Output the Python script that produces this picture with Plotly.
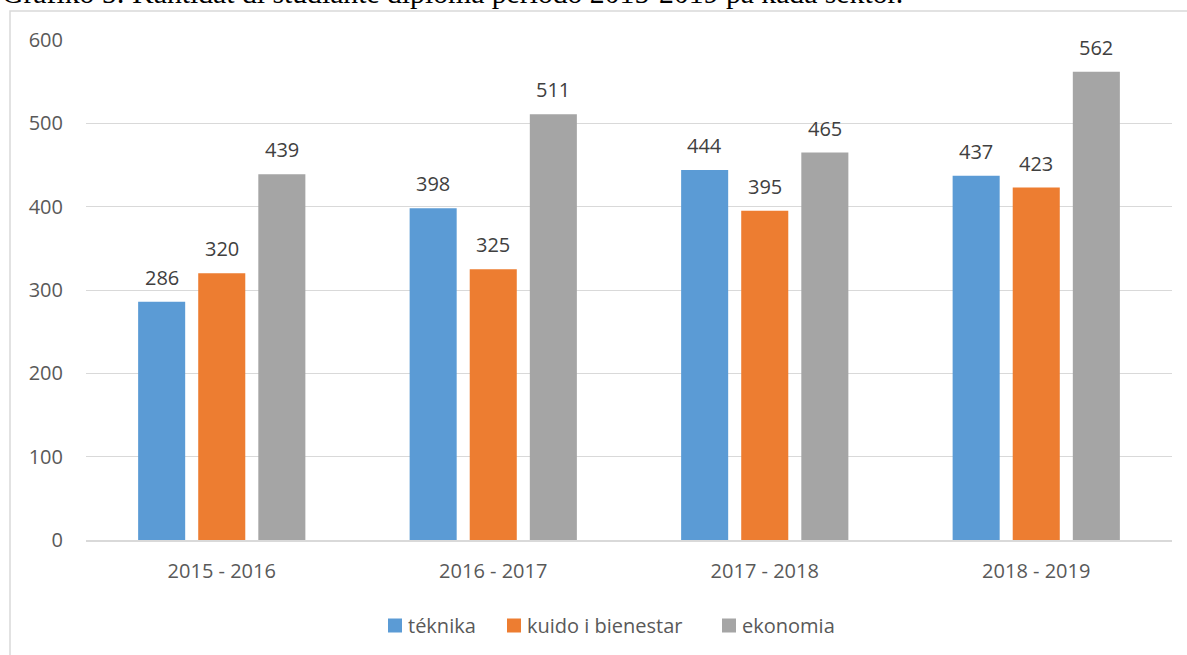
import plotly.graph_objects as go

W, H = 1187, 655

categories = ["2015 - 2016", "2016 - 2017", "2017 - 2018", "2018 - 2019"]
series_names = ["téknika", "kuido i bienestar", "ekonomia"]
teknika = [286, 398, 444, 437]
kuido = [320, 325, 395, 423]
ekonomia = [439, 511, 465, 562]
series_values = [teknika, kuido, ekonomia]
colors = ["#5B9BD5", "#ED7D31", "#A5A5A5"]
y_ticks = [0, 100, 200, 300, 400, 500, 600]
title_text = "Grafiko 5: Kantidat di studiante diploma periodo 2015-2019 pa kada sektor."

BARGAP = 0.336
BARGROUPGAP = 0.217


def px(x):
    return x / W


def py(y):
    return 1 - y / H


fig = go.Figure()
for name, vals, col in zip(series_names, series_values, colors):
    fig.add_trace(go.Bar(x=categories, y=vals, name=name, marker_color=col,
                         marker_line_width=0, showlegend=False))

# data labels
n = len(series_values)
slot = (1 - BARGAP) / n
annots = []
for i, vals in enumerate(series_values):
    for j, v in enumerate(vals):
        annots.append(dict(x=j + (i - (n - 1) / 2) * slot, y=v, xref="x", yref="y",
                           text=str(v), showarrow=False, yanchor="bottom", yshift=9,
                           font=dict(family="Open Sans", size=20, color="#404040")))

# title (partly cut at the top edge, as in the source)
annots.append(dict(x=px(0), y=py(10.9), xref="paper", yref="paper", xanchor="left",
                   yanchor="bottom", text=title_text, showarrow=False,
                   font=dict(family="Liberation Serif", size=29.7, color="#000000")))

shapes = [dict(type="rect", xref="paper", yref="paper", x0=px(10), x1=1.1,
               y0=-0.1, y1=py(11), line=dict(color="#D9D9D9", width=1.5),
               fillcolor="rgba(0,0,0,0)", layer="below")]

# legend (manual, Excel-like spacing)
legend_x = [388, 507, 722]
legend_y = 625.5
for name, col, lx in zip(series_names, colors, legend_x):
    shapes.append(dict(type="rect", xref="paper", yref="paper", x0=px(lx), x1=px(lx + 14),
                       y0=py(legend_y + 7), y1=py(legend_y - 7), fillcolor=col,
                       line=dict(width=0)))
    annots.append(dict(x=px(lx + 18), y=py(legend_y), xref="paper", yref="paper",
                       xanchor="left", yanchor="middle", text=name, showarrow=False,
                       font=dict(family="Open Sans", size=20, color="#595959")))

fig.update_layout(
    width=W, height=H,
    margin=dict(l=0, r=0, t=0, b=0, autoexpand=False),
    paper_bgcolor="white", plot_bgcolor="white",
    barmode="group", bargap=BARGAP, bargroupgap=BARGROUPGAP,
    font=dict(family="Open Sans", size=20, color="#595959"),
    annotations=annots,
    shapes=shapes,
    showlegend=False,
    xaxis=dict(domain=[px(86), px(1172)], showgrid=False, showline=True,
               linecolor="#D9D9D9", linewidth=1.5, ticks="", ticklabelstandoff=12,
               tickfont=dict(size=20, color="#595959"), automargin=False),
    yaxis=dict(domain=[py(540), py(40)], range=[0, 600], tickvals=y_ticks,
               showgrid=True, gridcolor="#D9D9D9", gridwidth=1, zeroline=False,
               showline=False, ticks="", ticklabelstandoff=22,
               tickfont=dict(size=20, color="#595959"), automargin=False),
)

fig.write_html("out.html", config={"displayModeBar": False},
               post_script="document.body.style.margin='0';")
